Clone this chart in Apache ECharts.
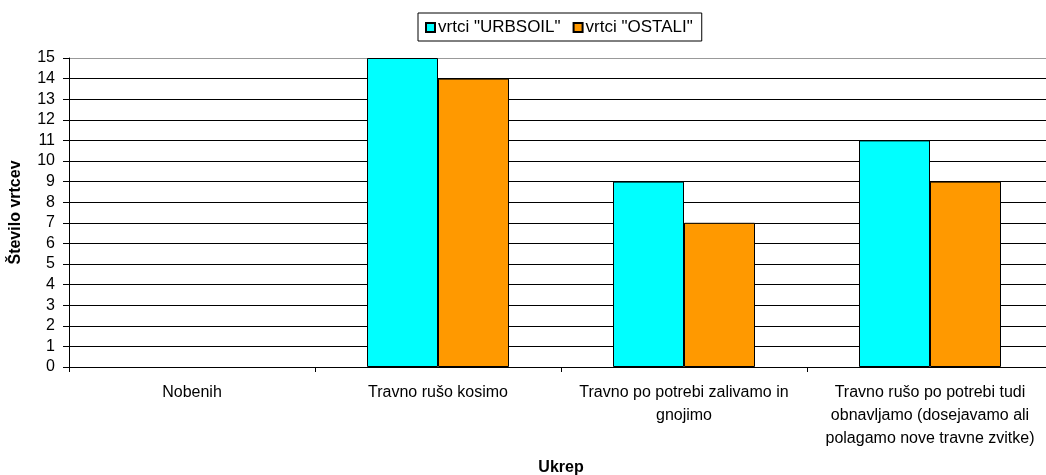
<!DOCTYPE html>
<html>
<head>
<meta charset="utf-8">
<script src="https://cdn.jsdelivr.net/npm/echarts@6/dist/echarts.min.js"></script>
<style>
html, body { margin: 0; padding: 0; background: #fff; }
#chart { width: 1046px; height: 475px; }
</style>
</head>
<body>
<div id="chart"></div>
<script>
// categories on the x axis (line breaks as in the original)
var categories = [
  'Nobenih',
  'Travno rušo kosimo',
  'Travno po potrebi zalivamo in\ngnojimo',
  'Travno rušo po potrebi tudi\nobnavljamo (dosejavamo ali\npolagamo nove travne zvitke)'
];
var urbsoil = [0, 15, 9, 11];
var ostali = [0, 14, 7, 9];
var seriesNames = ['vrtci "URBSOIL"', 'vrtci "OSTALI"'];

var font = '"Liberation Sans", Arial, sans-serif';

// top grid line is lighter in the original
var splitColors = [];
for (var i = 0; i < 15; i++) splitColors.push('#000');
splitColors.push('#999');

// zero bars get no outline
function toBars(arr) {
  return arr.map(function (v) {
    return v === 0 ? { value: v, itemStyle: { borderWidth: 0 } } : v;
  });
}

var chart = echarts.init(document.getElementById('chart'));
chart.setOption({
  animation: false,
  textStyle: { fontFamily: font, color: '#000' },
  legend: {
    data: seriesNames,
    left: 418,
    top: 13,
    padding: [6, 9, 5, 7],
    borderColor: '#000',
    borderWidth: 1,
    itemWidth: 9,
    itemHeight: 9,
    itemGap: 12,
    icon: 'rect',
    textStyle: { fontFamily: font, fontSize: 17, color: '#000', padding: [0, 0, 0, -2] }
  },
  grid: {
    left: 69,
    top: 58,
    width: 984,
    height: 309,
    containLabel: false,
    outerBoundsMode: 'none'
  },
  xAxis: {
    type: 'category',
    data: categories,
    name: 'Ukrep',
    nameLocation: 'middle',
    nameGap: 93,
    nameTextStyle: { fontFamily: font, fontSize: 16, fontWeight: 'bold', color: '#000' },
    axisLine: { lineStyle: { color: '#000', width: 1 } },
    axisTick: { show: true, length: 5, lineStyle: { color: '#000' } },
    axisLabel: {
      interval: 0,
      margin: 14,
      fontFamily: font,
      fontSize: 16,
      color: '#000',
      lineHeight: 23,
      align: 'center'
    }
  },
  yAxis: {
    type: 'value',
    min: 0,
    max: 15,
    interval: 1,
    name: 'Število vrtcev',
    nameLocation: 'middle',
    nameRotate: 90,
    nameGap: 45,
    nameTextStyle: { fontFamily: font, fontSize: 16, fontWeight: 'bold', color: '#000' },
    axisLine: { show: true, lineStyle: { color: '#000', width: 1 } },
    axisTick: { show: true, length: 6, lineStyle: { color: '#000' } },
    axisLabel: { margin: 14, fontFamily: font, fontSize: 16, color: '#000' },
    splitLine: { show: true, lineStyle: { color: splitColors, width: 1 } }
  },
  series: [
    {
      name: seriesNames[0],
      type: 'bar',
      data: toBars(urbsoil),
      barWidth: 71,
      barGap: '0%',
      itemStyle: { color: '#00FFFF', borderColor: '#000', borderWidth: 1 }
    },
    {
      name: seriesNames[1],
      type: 'bar',
      data: toBars(ostali),
      barWidth: 71,
      barGap: '0%',
      itemStyle: { color: '#FF9900', borderColor: '#000', borderWidth: 1 }
    }
  ]
});
</script>
</body>
</html>
